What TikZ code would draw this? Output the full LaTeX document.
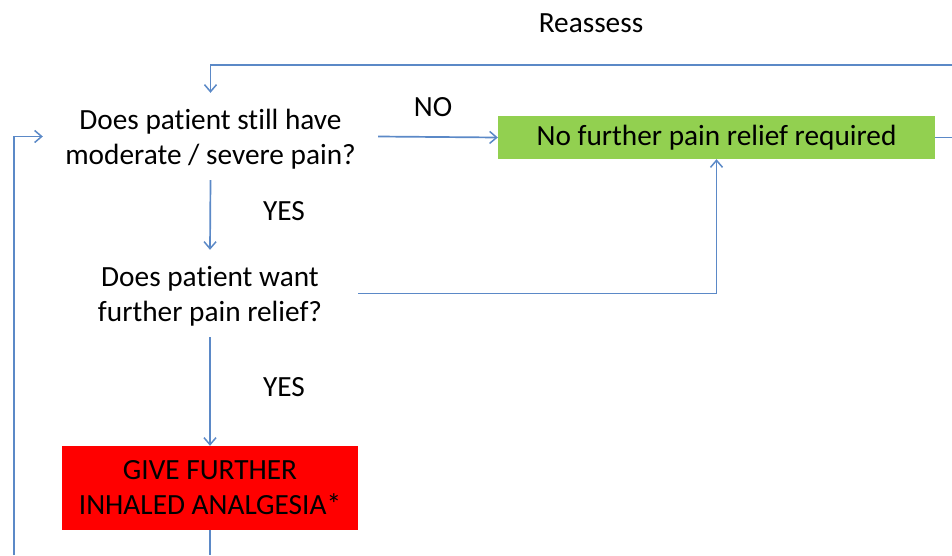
\documentclass[tikz,border=0pt]{standalone}
\usepackage{fontspec}
\setmainfont{Carlito}[Ligatures=NoCommon]
\usetikzlibrary{arrows.meta}
\definecolor{linkblue}{RGB}{91,137,199}
\definecolor{boxgreen}{RGB}{146,208,80}
\definecolor{boxred}{RGB}{255,0,0}
\tikzset{
  flow/.style={draw=linkblue, line width=1.7pt},
  arr/.style={flow, -{Straight Barb[length=7pt,width=12pt,line width=1.5pt]}},
  qtext/.style={align=center, font=\fontsize{29.3}{35}\selectfont, inner sep=0pt, text=black},
  qlabel/.style={label={[qtext, yshift=-3pt]center:#1}},
  lbl/.style={font=\fontsize{29.3}{35}\selectfont, inner sep=0pt, text=black},
}
\begin{document}
\begin{tikzpicture}[x=1pt,y=-1pt]
\useasboundingbox (0,0) rectangle (952,555);
\node[inner sep=0pt, minimum width=335pt, minimum height=87pt, qlabel={Does patient still have\\moderate / severe pain?}] (q1) at (210.5,136.5) {};
\node[inner sep=0pt, minimum width=296pt, minimum height=87pt, qlabel={Does patient want\\further pain relief?}] (q2) at (210,293.5) {};
\node[qtext, fill=boxgreen, minimum width=437pt, minimum height=43pt] (green) at (716.5,137.5) {No further pain relief required};
\node[qtext, fill=boxred, minimum width=296pt, minimum height=84pt] (red) at (210,488) {GIVE FURTHER\\INHALED ANALGESIA*};
\node[lbl] (reassess) at (591,23) {Reassess};
\node[lbl] (no) at (433,107) {NO};
\node[lbl] (yes1) at (284,211) {YES};
\node[lbl] (yes2) at (284,387) {YES};
\coordinate (topright) at (952,65);
\coordinate (greenout) at (952,137.5);
\coordinate (redout) at (210,555);
\coordinate (leftbottom) at (14,555);
\draw[arr] (topright) -| (q1.north);
\draw[arr] (q1.east) -- (green.west);
\draw[flow] (green.east) -- (greenout);
\draw[arr] (q1.south) -- (q2.north);
\draw[arr] (q2.east) -| (green.south);
\draw[arr] (q2.south) -- (red.north);
\draw[flow] (red.south) -- (redout);
\draw[arr] (leftbottom) |- (q1.west);
\end{tikzpicture}
\end{document}
